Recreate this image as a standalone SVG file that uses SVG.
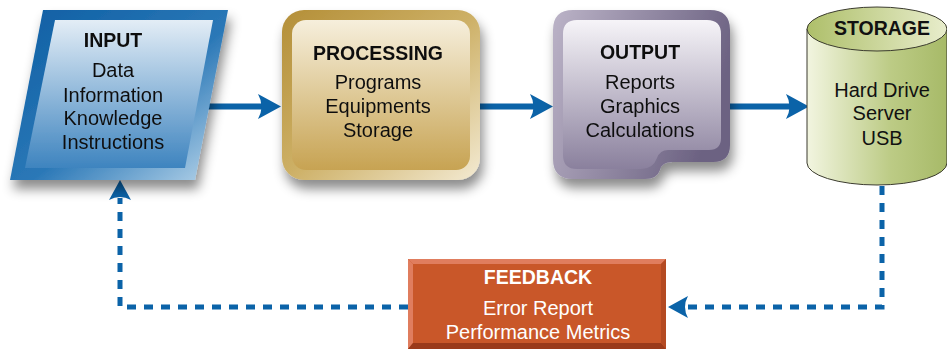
<svg xmlns="http://www.w3.org/2000/svg" width="947" height="349" viewBox="0 0 947 349">
<defs>
  <style>
    .t{font-family:"Liberation Sans",Arial,sans-serif;font-size:20px;fill:#111;text-anchor:middle;dominant-baseline:central}
    .h{font-weight:bold;font-size:19.5px}
    .w{fill:#fff}
    .ln{fill:none;stroke:#0b63a8;stroke-width:6}
    .dl{fill:none;stroke:#0b63a8;stroke-width:5;stroke-dasharray:9 8}
    .ah{fill:#0b63a8}
  </style>
  <filter id="sh" x="-20%" y="-20%" width="140%" height="160%">
    <feDropShadow dx="3" dy="9" stdDeviation="6" flood-color="#000" flood-opacity="0.45"/>
  </filter>
  <linearGradient id="inF" x1="0" y1="0" x2="1" y2="1">
    <stop offset="0" stop-color="#0d5ea3"/>
    <stop offset="0.55" stop-color="#2b78b7"/>
    <stop offset="1" stop-color="#bcd8ec"/>
  </linearGradient>
  <linearGradient id="inI" x1="0" y1="0" x2="0" y2="1">
    <stop offset="0" stop-color="#e3edf6"/>
    <stop offset="1" stop-color="#3e84bf"/>
  </linearGradient>
  <linearGradient id="prF" x1="0" y1="0" x2="1" y2="1">
    <stop offset="0" stop-color="#b48f38"/>
    <stop offset="0.5" stop-color="#cdb066"/>
    <stop offset="1" stop-color="#f3ead2"/>
  </linearGradient>
  <linearGradient id="prI" x1="0" y1="0" x2="0" y2="1">
    <stop offset="0" stop-color="#f6efdc"/>
    <stop offset="1" stop-color="#c7a352"/>
  </linearGradient>
  <linearGradient id="ouF" x1="0" y1="0" x2="1" y2="0.3">
    <stop offset="0" stop-color="#bbb3c7"/>
    <stop offset="1" stop-color="#6c6282"/>
  </linearGradient>
  <linearGradient id="ouI" x1="0" y1="0" x2="0" y2="1">
    <stop offset="0" stop-color="#f6f4f8"/>
    <stop offset="1" stop-color="#8a809d"/>
  </linearGradient>
  <linearGradient id="stB" x1="0" y1="0" x2="1" y2="0">
    <stop offset="0" stop-color="#f2f5e0"/>
    <stop offset="0.6" stop-color="#bccb85"/>
    <stop offset="1" stop-color="#a7ba68"/>
  </linearGradient>
  <linearGradient id="stT" x1="0" y1="0" x2="1" y2="0">
    <stop offset="0" stop-color="#aebf6a"/>
    <stop offset="1" stop-color="#e8edcc"/>
  </linearGradient>
</defs>

<g id="connectors">
  <line class="ln" x1="208" y1="106.5" x2="262" y2="106.5"/>
  <path class="ah" d="M281,106.5 L258,94 Q265,106.5 258,119 Z"/>
  <line class="ln" x1="480" y1="106.5" x2="534" y2="106.5"/>
  <path class="ah" d="M553,106.5 L530,94 Q537,106.5 530,119 Z"/>
  <line class="ln" x1="730" y1="106.5" x2="790" y2="106.5"/>
  <path class="ah" d="M809,106.5 L786,94 Q793,106.5 786,119 Z"/>
  <polyline class="dl" points="882,186 882,307 686,307"/>
  <path class="ah" d="M668,307 L688,296 Q682,307 688,318 Z"/>
  <polyline class="dl" points="408,307 120,307 120,198"/>
  <path class="ah" d="M120,180 L109,200 Q120,194 131,200 Z"/>
</g>

<g id="input" filter="url(#sh)">
  <path d="M43,10 L228,10 L195,180 L10,180 Z" fill="url(#inF)"/>
  <path d="M55,20 L213,20 L185,168 L25,168 Z" fill="url(#inI)"/>
  <text class="t h" x="113" y="40">INPUT</text>
  <text class="t" x="113" y="70">Data</text>
  <text class="t" x="113" y="95">Information</text>
  <text class="t" x="113" y="118">Knowledge</text>
  <text class="t" x="113" y="142">Instructions</text>
</g>

<g id="processing" filter="url(#sh)">
  <rect x="282" y="10" width="198" height="170" rx="22" fill="url(#prF)"/>
  <rect x="292" y="20" width="178" height="150" rx="14" fill="url(#prI)"/>
  <text class="t h" x="378" y="53">PROCESSING</text>
  <text class="t" x="378" y="82">Programs</text>
  <text class="t" x="378" y="106">Equipments</text>
  <text class="t" x="378" y="130">Storage</text>
</g>

<g id="output" filter="url(#sh)">
  <path d="M573,10 H710 Q730,10 730,30 V145 Q730,162 713,162 H672 Q662,162 660,170 Q657,179 645,179 H573 Q553,179 553,159 V30 Q553,10 573,10 Z" fill="url(#ouF)"/>
  <path d="M578,20 H707 Q721,20 721,34 V138 Q721,150 709,150 H668 Q660,150 657,158 Q653,169 641,169 H577 Q563,169 563,155 V34 Q563,20 577,20 Z" fill="url(#ouI)"/>
  <text class="t h" x="640" y="52">OUTPUT</text>
  <text class="t" x="640" y="82">Reports</text>
  <text class="t" x="640" y="106">Graphics</text>
  <text class="t" x="640" y="130">Calculations</text>
</g>

<g id="storage">
  <path d="M807,29 V163 A70,22 0 0 0 947,163 V29 Z" fill="url(#stB)" stroke="#3b3b2e" stroke-width="1"/>
  <ellipse cx="877" cy="29" rx="70" ry="22" fill="url(#stT)" stroke="#3b3b2e" stroke-width="1"/>
  <text class="t h" x="882" y="28">STORAGE</text>
  <text class="t" x="882" y="90">Hard Drive</text>
  <text class="t" x="882" y="113">Server</text>
  <text class="t" x="882" y="138">USB</text>
</g>

<g id="feedback">
  <rect x="408" y="259" width="258" height="90" fill="#c95729"/>
  <path d="M408,259 H666 L661,264 H413 Z" fill="#e07d5e"/>
  <path d="M408,259 L413,264 V343 L408,349 Z" fill="#e07d5e"/>
  <path d="M408,349 L413,343 H661 L666,349 Z" fill="#9a3a1a"/>
  <path d="M666,259 L661,264 V343 L666,349 Z" fill="#b44a22"/>
  <text class="t h w" x="538" y="277">FEEDBACK</text>
  <text class="t w" x="538" y="308">Error Report</text>
  <text class="t w" x="538" y="332">Performance Metrics</text>
</g>
</svg>
